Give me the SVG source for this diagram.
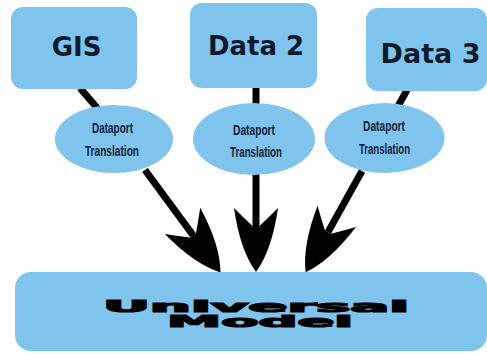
<svg xmlns="http://www.w3.org/2000/svg" width="487" height="354" viewBox="0 0 487 354">
<defs>
<style>
.box{fill:#7fc4ec;}
.title{font-family:"DejaVu Sans","Liberation Sans",sans-serif;font-weight:bold;fill:#0d1a2b;text-anchor:middle;}
.small{font-family:"Liberation Sans",Arial,sans-serif;font-weight:bold;font-size:15px;fill:#14213a;text-anchor:middle;}
.big{font-family:"DejaVu Sans","Liberation Sans",sans-serif;font-weight:bold;font-size:16px;fill:#000;stroke:#000;stroke-width:1.2;text-anchor:middle;}
.conn{stroke:#000;stroke-width:7;fill:none;}
</style>
<marker id="arrow" markerUnits="userSpaceOnUse" orient="auto" refX="-46" refY="0" markerWidth="70" markerHeight="50" overflow="visible">
<path d="M0,0 Q-22,16 -64,22 Q-54,12 -46,3.5 L-46,-3.5 Q-54,-12 -64,-22 Q-22,-16 0,0 Z" fill="#000"/>
</marker>
</defs>
<rect width="487" height="354" fill="#fff"/>
<g id="connectors">
<line class="conn" x1="80" y1="88" x2="104" y2="116"/>
<line class="conn" x1="256" y1="86" x2="256" y2="110"/>
<line class="conn" x1="408" y1="88" x2="396" y2="110"/>
<line class="conn" x1="145" y1="170" x2="193.2" y2="235.4" marker-end="url(#arrow)"/>
<line class="conn" x1="256" y1="172" x2="256" y2="226" marker-end="url(#arrow)"/>
<line class="conn" x1="362" y1="171" x2="328" y2="232.1" marker-end="url(#arrow)"/>
</g>
<g id="gis">
<rect class="box" x="11" y="7" width="126" height="82" rx="12"/>
<text class="title" x="76.5" y="56" font-size="26">GIS</text>
</g>
<g id="data2">
<rect class="box" x="190" y="3" width="127" height="85" rx="12"/>
<text class="title" x="256" y="55" font-size="26">Data 2</text>
</g>
<g id="data3">
<rect class="box" x="366" y="8" width="121" height="83" rx="12"/>
<text class="title" x="430.5" y="63" font-size="27">Data 3</text>
</g>
<g id="dataport1">
<ellipse class="box" cx="114" cy="139" rx="59" ry="34"/>
<text class="small" x="112.5" y="133" textLength="41" lengthAdjust="spacingAndGlyphs">Dataport</text>
<text class="small" x="112" y="156" textLength="54" lengthAdjust="spacingAndGlyphs">Translation</text>
</g>
<g id="dataport2">
<ellipse class="box" cx="254" cy="139" rx="61" ry="36"/>
<text class="small" x="254" y="135" textLength="42" lengthAdjust="spacingAndGlyphs">Dataport</text>
<text class="small" x="256" y="157" textLength="52" lengthAdjust="spacingAndGlyphs">Translation</text>
</g>
<g id="dataport3">
<ellipse class="box" cx="384.5" cy="138" rx="60" ry="35"/>
<text class="small" x="384" y="131" textLength="42" lengthAdjust="spacingAndGlyphs">Dataport</text>
<text class="small" x="384.5" y="154" textLength="51" lengthAdjust="spacingAndGlyphs">Translation</text>
</g>
<g id="universal">
<rect class="box" x="15" y="272" width="472" height="79" rx="16"/>
<text class="big" x="256" y="312" textLength="306" lengthAdjust="spacingAndGlyphs">Universal</text>
<text class="big" x="260" y="327" textLength="186" lengthAdjust="spacingAndGlyphs">Model</text>
</g>
</svg>
